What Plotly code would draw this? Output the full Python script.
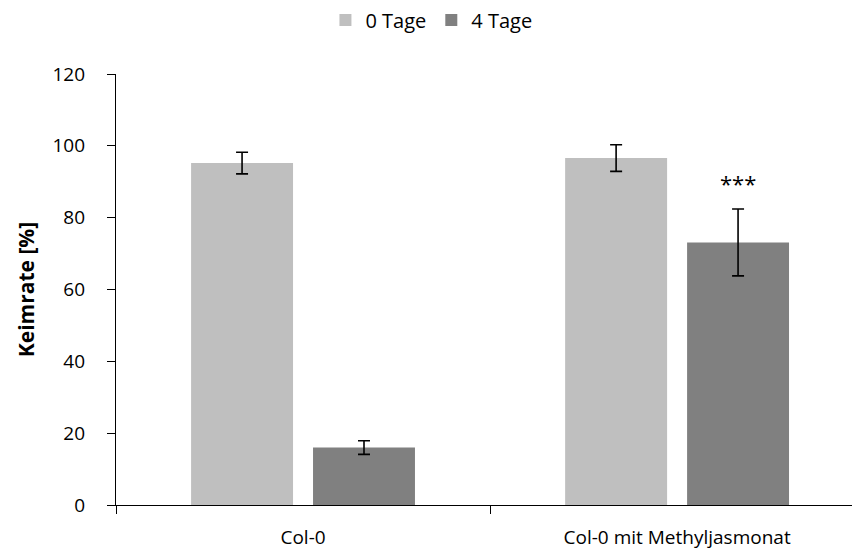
import plotly.graph_objects as go

categories = ["Col-0", "Col-0 mit Methyljasmonat"]
series_names = ["0 Tage", "4 Tage"]
values_0 = [95.2, 96.6]
errors_0 = [3.0, 3.7]
values_4 = [16.0, 73.1]
errors_4 = [1.9, 9.3]
colors = ["#bfbfbf", "#808080"]
y_ticks = [0, 20, 40, 60, 80, 100, 120]
sig_label = "***"
sig_y = 89.7

font_family = "Open Sans, Liberation Sans, sans-serif"

fig = go.Figure()
for name, vals, errs, col in zip(series_names, [values_0, values_4], [errors_0, errors_4], colors):
    fig.add_trace(go.Bar(
        x=categories, y=vals, name=name, marker=dict(color=col, line=dict(width=0)),
        error_y=dict(type="data", array=errs, visible=True, color="black", thickness=1.6, width=6),
    ))

fig.add_annotation(x=categories[1], y=sig_y, text=sig_label, showarrow=False, xshift=61,
                   font=dict(size=22, color="black", family=font_family))

fig.update_layout(
    width=852, height=546,
    margin=dict(l=108, r=0, t=66, b=49),
    paper_bgcolor="white", plot_bgcolor="white",
    barmode="group", bargap=0.348, bargroupgap=0.164,
    font=dict(family=font_family, size=18, color="black"),
    legend=dict(orientation="h", x=0.497, xref="container", xanchor="center", y=0.978, yref="container",
                yanchor="middle", font=dict(size=20), itemwidth=30, tracegroupgap=0),
    xaxis=dict(range=[-0.5, 1.489], showline=True, linecolor="black", linewidth=1.3, ticks="outside",
               tickson="boundaries", ticklen=8, tickcolor="black", tickwidth=1.3,
               tickfont=dict(size=19), ticklabelstandoff=15),
    yaxis=dict(range=[0, 120], tickvals=y_ticks, showline=True, linecolor="black", linewidth=1.3,
               ticks="outside", ticklen=8, tickcolor="black", tickwidth=1.3, showgrid=False, zeroline=False,
               title=dict(text="<b>Keimrate [%]</b>", font=dict(size=21), standoff=12),
               tickfont=dict(size=19), ticklabelstandoff=18),
)

fig.write_html("out.html")
